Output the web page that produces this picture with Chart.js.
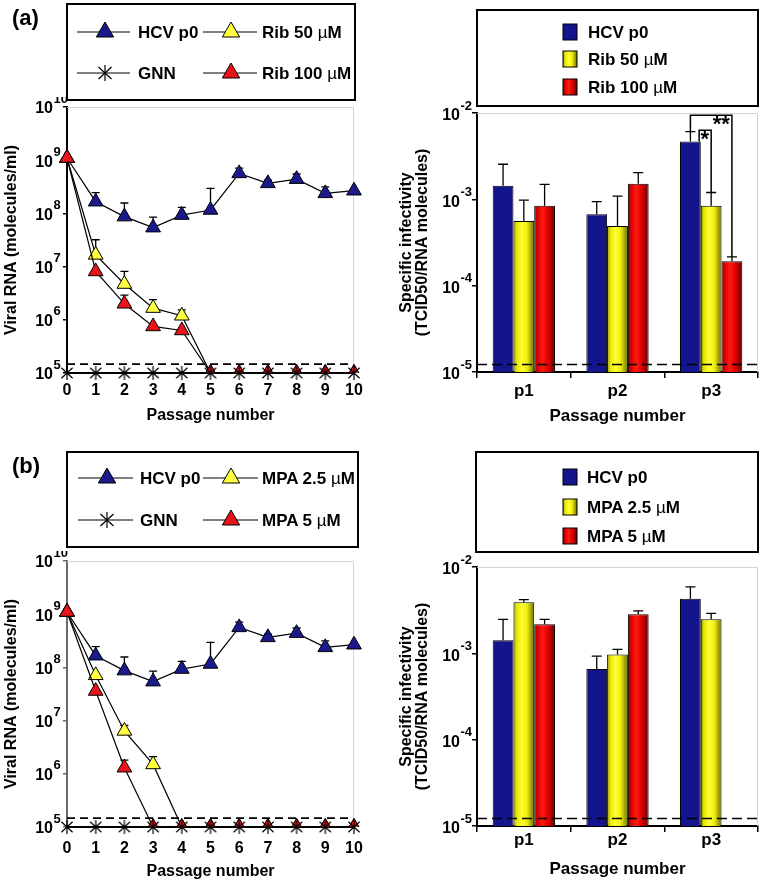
<!DOCTYPE html>
<html>
<head>
<meta charset="utf-8">
<title>HCV passages</title>
<script src="https://cdn.jsdelivr.net/npm/chart.js@4.4.1/dist/chart.umd.min.js"></script>
<style>
  body { margin: 0; background: #fff; }
  #page { position: relative; width: 765px; height: 883px; overflow: hidden; }
  canvas { position: absolute; }
  svg { position: absolute; left: 0; top: 0; }
</style>
</head>
<body>
<div id="page">
  <canvas id="rnaA" width="375" height="330" style="left:0;top:97px"></canvas>
  <canvas id="siA" width="380" height="330" style="left:385px;top:100px"></canvas>
  <canvas id="rnaB" width="375" height="330" style="left:0;top:551px"></canvas>
  <canvas id="siB" width="380" height="330" style="left:385px;top:554px"></canvas>

  <svg width="765" height="883" font-family='"Liberation Sans", Arial, sans-serif' font-weight="bold" font-size="17">
    <defs>
      <linearGradient id="gy" x1="0" x2="1" y1="0" y2="0">
        <stop offset="0" stop-color="#8c8c00"/><stop offset="0.15" stop-color="#e6e600"/>
        <stop offset="0.4" stop-color="#ffff33"/><stop offset="0.65" stop-color="#eeee10"/>
        <stop offset="1" stop-color="#6e6e00"/>
      </linearGradient>
      <linearGradient id="gr" x1="0" x2="1" y1="0" y2="0">
        <stop offset="0" stop-color="#900000"/><stop offset="0.15" stop-color="#d80000"/>
        <stop offset="0.4" stop-color="#ff1a10"/><stop offset="0.65" stop-color="#e00000"/>
        <stop offset="1" stop-color="#6a0000"/>
      </linearGradient>
      <polygon id="tri" points="0,-10 8.66,5 -8.66,5" stroke="#000" stroke-width="1"/>
      <g id="ast" stroke="#000" stroke-width="1.2">
        <line x1="0" y1="-8" x2="0" y2="8"/>
        <line x1="-6.5" y1="-6" x2="6.5" y2="6"/>
        <line x1="-6.5" y1="6" x2="6.5" y2="-6"/>
      </g>
    </defs>

    <text x="12" y="25" font-size="22">(a)</text>
    <text x="12" y="473" font-size="22">(b)</text>

    <!-- legend (a) line chart -->
    <rect x="67" y="4" width="288" height="96" fill="none" stroke="#000" stroke-width="2"/>
    <g stroke="#000" stroke-width="1">
      <line x1="77" y1="32" x2="130" y2="32"/><line x1="203" y1="32" x2="257" y2="32"/>
      <line x1="77" y1="73" x2="130" y2="73"/><line x1="203" y1="73" x2="257" y2="73"/>
    </g>
    <use href="#tri" x="105" y="32" fill="#1a1a8c"/>
    <use href="#tri" x="231" y="32" fill="#ffff40"/>
    <use href="#ast" x="105" y="73"/>
    <use href="#tri" x="231" y="73" fill="#e8141c"/>
    <text x="138" y="38">HCV p0</text>
    <text x="262" y="38">Rib 50 <tspan font-weight="normal">µ</tspan>M</text>
    <text x="138" y="79">GNN</text>
    <text x="262" y="79">Rib 100 <tspan font-weight="normal">µ</tspan>M</text>

    <!-- legend (a) bars -->
    <rect x="477" y="10" width="281" height="96" fill="none" stroke="#000" stroke-width="2"/>
    <rect x="563" y="24" width="14" height="16" fill="#14148c" stroke="#000"/>
    <rect x="563" y="51" width="14" height="16" fill="url(#gy)" stroke="#000"/>
    <rect x="563" y="79" width="14" height="16" fill="url(#gr)" stroke="#000"/>
    <text x="588" y="38">HCV p0</text>
    <text x="588" y="65">Rib 50 <tspan font-weight="normal">µ</tspan>M</text>
    <text x="588" y="93">Rib 100 <tspan font-weight="normal">µ</tspan>M</text>

    <!-- legend (b) line chart -->
    <rect x="67" y="452" width="291" height="95" fill="none" stroke="#000" stroke-width="2"/>
    <g stroke="#000" stroke-width="1">
      <line x1="78" y1="478" x2="133" y2="478"/><line x1="203" y1="478" x2="258" y2="478"/>
      <line x1="78" y1="520" x2="133" y2="520"/><line x1="203" y1="520" x2="258" y2="520"/>
    </g>
    <use href="#tri" x="107" y="478" fill="#1a1a8c"/>
    <use href="#tri" x="231" y="478" fill="#ffff40"/>
    <use href="#ast" x="107" y="520"/>
    <use href="#tri" x="231" y="520" fill="#e8141c"/>
    <text x="140" y="484">HCV p0</text>
    <text x="262" y="484">MPA 2.5 <tspan font-weight="normal">µ</tspan>M</text>
    <text x="140" y="526">GNN</text>
    <text x="262" y="526">MPA 5 <tspan font-weight="normal">µ</tspan>M</text>

    <!-- legend (b) bars -->
    <rect x="476" y="452" width="282" height="100" fill="none" stroke="#000" stroke-width="2"/>
    <rect x="563" y="469" width="14" height="16" fill="#14148c" stroke="#000"/>
    <rect x="563" y="499" width="14" height="16" fill="url(#gy)" stroke="#000"/>
    <rect x="563" y="528" width="14" height="16" fill="url(#gr)" stroke="#000"/>
    <text x="587" y="483">HCV p0</text>
    <text x="587" y="513">MPA 2.5 <tspan font-weight="normal">µ</tspan>M</text>
    <text x="587" y="542">MPA 5 <tspan font-weight="normal">µ</tspan>M</text>
  </svg>
</div>

<script>
// ---- data: viral RNA per passage (molecules/ml) ----
const passages = [0, 1, 2, 3, 4, 5, 6, 7, 8, 9, 10];
const rnaTicks = [1e5, 1e6, 1e7, 1e8, 1e9, 1e10];
const hcvRNA    = [1.1e9, 1.66e8, 8.7e7, 5.4e7, 9.3e7, 1.16e8, 5.65e8, 3.67e8, 4.4e8, 2.38e8, 2.67e8];
const hcvRNAErr = [null, 2.45e8, 1.57e8, 8.5e7, 1.3e8, 2.95e8, 7.1e8, 4.2e8, 5.5e8, 3.15e8, null];
const gnnRNA    = [1e5, 1e5, 1e5, 1e5, 1e5, 1e5, 1e5, 1e5, 1e5, 1e5, 1e5];
const rib50RNA     = [1.1e9, 1.66e7, 4.7e6, 1.66e6, 1.19e6, 1e5, 1e5, 1e5, 1e5, 1e5, 1e5];
const rib50RNAErr  = [null, 3.2e7, 8.1e6, 2.4e6, 1.54e6, null, null, null, null, null, null];
const rib100RNA    = [1.1e9, 8.1e6, 2.0e6, 7.5e5, 6.3e5, 1e5, 1e5, 1e5, 1e5, 1e5, 1e5];
const rib100RNAErr = [null, null, 2.9e6, null, null, null, null, null, null, null, null];
const mpa25RNA     = [1.1e9, 7.1e7, 6.4e6, 1.5e6, 1e5, 1e5, 1e5, 1e5, 1e5, 1e5, 1e5];
const mpa25RNAErr  = [null, null, 8.1e6, 2.1e6, null, null, null, null, null, null, null];
const mpa5RNA      = [1.1e9, 3.6e7, 1.3e6, 1e5, 1e5, 1e5, 1e5, 1e5, 1e5, 1e5, 1e5];
const mpa5RNAErr   = [null, null, 1.8e6, null, null, null, null, null, null, null, null];
const rnaLimit = 1.47e5;

// ---- data: specific infectivity (TCID50 / RNA molecule) ----
const passLabels = ['p1', 'p2', 'p3'];
const siTicks = [1e-5, 1e-4, 1e-3, 1e-2];
const hcvSIa     = [1.44e-3, 6.7e-4, 4.67e-3];
const hcvSIaErr  = [2.55e-3, 9.4e-4, 6.1e-3];
const rib50SI    = [5.6e-4, 4.9e-4, 8.4e-4];
const rib50SIErr = [9.8e-4, 1.09e-3, 1.2e-3];
const rib100SI    = [8.4e-4, 1.52e-3, 1.92e-4];
const rib100SIErr = [1.49e-3, 2.04e-3, 2.15e-4];
const hcvSIb     = [1.42e-3, 6.6e-4, 4.3e-3];
const hcvSIbErr  = [2.48e-3, 9.3e-4, 5.9e-3];
const mpa25SI    = [3.9e-3, 9.7e-4, 2.48e-3];
const mpa25SIErr = [4.2e-3, 1.11e-3, 2.9e-3];
const mpa5SI     = [2.17e-3, 2.83e-3, null];
const mpa5SIErr  = [2.48e-3, 3.1e-3, null];
const siLimit = 1.22e-5;
// p3 significance: HCV p0 vs Rib 100 (**), HCV p0 vs Rib 50 (*)
const sigBrackets = [
  { text: '**', from: 0, to: 2, cat: 2, level: 9.4e-3, inner: false },
  { text: '*', from: 0, to: 1, cat: 2, level: 6.3e-3, inner: true }
];

const FONT = '"Liberation Sans", Arial, sans-serif';
const NAVY = '#14148c';
const BAR_GROUP = 0.665;
const YELLOW_STOPS = [[0, '#8c8c00'], [0.15, '#e6e600'], [0.4, '#ffff33'], [0.65, '#eeee10'], [1, '#6e6e00']];
const RED_STOPS = [[0, '#900000'], [0.15, '#d80000'], [0.4, '#ff1a10'], [0.65, '#e00000'], [1, '#6a0000']];

Chart.defaults.font.family = FONT;
Chart.defaults.font.weight = 'bold';
Chart.defaults.color = '#000';
Chart.defaults.animation = false;
Chart.defaults.plugins.legend.display = false;
Chart.defaults.plugins.tooltip.enabled = false;

// asterisk marker for GNN
function asterisk(r) {
  const c = document.createElement('canvas');
  c.width = c.height = 2 * r + 2;
  const g = c.getContext('2d');
  const m = r + 1;
  g.strokeStyle = '#000';
  g.lineWidth = 1.2;
  g.beginPath();
  g.moveTo(m, m - r); g.lineTo(m, m + r);
  g.moveTo(m - r * 0.8, m - r * 0.75); g.lineTo(m + r * 0.8, m + r * 0.75);
  g.moveTo(m - r * 0.8, m + r * 0.75); g.lineTo(m + r * 0.8, m - r * 0.75);
  g.stroke();
  return c;
}
const astImg = asterisk(7);

// horizontal shading of a bar, like the original cylinders
function shaded(stops) {
  return (c) => {
    const chart = c.chart, x = chart.scales.x;
    if (!x || !x.width || c.dataIndex === undefined) return stops[2][1];
    const n = chart.data.datasets.length;
    const w = x.width / chart.data.labels.length * BAR_GROUP / n;
    const cx = x.getPixelForValue(c.dataIndex) + (c.datasetIndex - (n - 1) / 2) * w;
    const g = chart.ctx.createLinearGradient(cx - w / 2, 0, cx + w / 2, 0);
    stops.forEach(([o, col]) => g.addColorStop(o, col));
    return g;
  };
}

const errorBars = {
  id: 'errorBars',
  beforeDatasetsDraw(chart, args, opts) {
    const y = chart.scales.y, ctx = chart.ctx;
    ctx.save();
    ctx.strokeStyle = '#000';
    ctx.lineWidth = 1.3;
    chart.data.datasets.forEach((ds, i) => {
      if (!ds.errTop) return;
      chart.getDatasetMeta(i).data.forEach((el, j) => {
        const v = ds.errTop[j];
        const d = ds.data[j];
        if (v == null || d == null || (typeof d === 'object' && d.y == null)) return;
        const top = y.getPixelForValue(v);
        const cap = opts.cap || 4;
        ctx.beginPath();
        ctx.moveTo(el.x, el.y);
        ctx.lineTo(el.x, top);
        ctx.moveTo(el.x - cap, top);
        ctx.lineTo(el.x + cap, top);
        ctx.stroke();
      });
    });
    ctx.restore();
  }
};

function drawLimit(chart, opts) {
  const a = chart.chartArea, ctx = chart.ctx;
  const y = chart.scales.y.getPixelForValue(opts.value);
  ctx.save();
  ctx.strokeStyle = '#000';
  ctx.lineWidth = 1.6;
  ctx.setLineDash(opts.dash);
  ctx.beginPath();
  ctx.moveTo(a.left, y);
  ctx.lineTo(a.right, y);
  ctx.stroke();
  ctx.restore();
}

const limitLine = {
  id: 'limitLine',
  beforeDatasetsDraw(chart, args, opts) { if (opts.value && !opts.above) drawLimit(chart, opts); },
  afterDatasetsDraw(chart, args, opts) { if (opts.value && opts.above) drawLimit(chart, opts); }
};

const frame = {
  id: 'frame',
  beforeDatasetsDraw(chart) {
    const a = chart.chartArea, ctx = chart.ctx;
    ctx.save();
    ctx.strokeStyle = '#d4d4d4';
    ctx.lineWidth = 1;
    ctx.beginPath();
    ctx.moveTo(a.left, a.top + 0.5);
    ctx.lineTo(a.right - 0.5, a.top + 0.5);
    ctx.lineTo(a.right - 0.5, a.bottom);
    ctx.stroke();
    ctx.restore();
  }
};

// "10" with the exponent raised
const powTicks = {
  id: 'powTicks',
  afterDraw(chart, args, opts) {
    if (opts.baseX == null) return;
    const s = chart.scales.y, ctx = chart.ctx;
    ctx.save();
    ctx.fillStyle = '#000';
    ctx.textBaseline = 'middle';
    s.ticks.forEach(t => {
      const y = s.getPixelForValue(t.value);
      const e = Math.round(Math.log10(t.value));
      ctx.font = 'bold 16px ' + FONT;
      ctx.textAlign = 'right';
      ctx.fillText('10', opts.baseX, y + opts.baseDy);
      ctx.font = 'bold ' + opts.expSize + 'px ' + FONT;
      ctx.textAlign = 'left';
      ctx.fillText(String(e), opts.baseX + 0.5, y + opts.expDy);
    });
    ctx.restore();
  }
};

const brackets = {
  id: 'brackets',
  afterDatasetsDraw(chart, args, opts) {
    if (!opts.items) return;
    const y = chart.scales.y, ctx = chart.ctx, ds = chart.data.datasets;
    ctx.save();
    ctx.strokeStyle = '#000';
    ctx.fillStyle = '#000';
    ctx.lineWidth = 1.5;
    opts.items.forEach(b => {
      const ea = chart.getDatasetMeta(b.from).data[b.cat];
      const eb = chart.getDatasetMeta(b.to).data[b.cat];
      const xa = b.inner ? ea.x + ea.width * 0.42 : ea.x;
      const ya = y.getPixelForValue(b.inner ? ds[b.from].data[b.cat] : ds[b.from].errTop[b.cat]);
      const yb = y.getPixelForValue(ds[b.to].errTop[b.cat]);
      const yl = y.getPixelForValue(b.level);
      ctx.beginPath();
      ctx.moveTo(xa, ya);
      ctx.lineTo(xa, yl);
      ctx.lineTo(eb.x, yl);
      ctx.lineTo(eb.x, yb);
      ctx.stroke();
      ctx.font = 'bold 22px ' + FONT;
      ctx.textAlign = 'right';
      ctx.textBaseline = 'top';
      ctx.fillText(b.text, eb.x - 2, yl - 1);
    });
    ctx.restore();
  }
};

Chart.register(errorBars, limitLine, frame, powTicks, brackets);

function rnaChart(id, series, o) {
  return new Chart(document.getElementById(id), {
    type: 'line',
    data: {
      datasets: series.map(s => ({
        label: s.label,
        data: passages.map((p, i) => ({ x: p, y: s.data[i] })),
        errTop: s.err,
        borderColor: '#000',
        borderWidth: 1.2,
        pointStyle: s.star ? astImg : 'triangle',
        pointRadius: 8.5,
        pointBackgroundColor: s.color,
        pointBorderColor: '#000',
        pointBorderWidth: 1,
        order: s.order,
        clip: s.cut ? { left: false, top: false, right: false, bottom: 0 } : false
      }))
    },
    options: {
      responsive: false,
      layout: { padding: { top: 10, right: 21, left: 0, bottom: 0 }, autoPadding: false },
      scales: {
        x: {
          type: 'linear', min: 0, max: 10,
          ticks: { stepSize: 1, autoSkip: false, font: { size: 16 }, padding: o.xPad },
          grid: { display: false },
          border: { color: '#000', width: 2 },
          title: { display: true, text: 'Passage number', font: { size: 16 }, padding: { top: 0, bottom: o.tPad } },
          afterFit: s => { s.height = 54; }
        },
        y: {
          type: 'logarithmic', min: 1e5, max: 1e10,
          afterBuildTicks: s => { s.ticks = rnaTicks.map(v => ({ value: v })); },
          ticks: { display: false },
          grid: { drawOnChartArea: false, tickLength: 4, color: o.axis, lineWidth: 1.5 },
          border: { color: o.axis, width: 2 },
          title: { display: true, text: 'Viral RNA (molecules/ml)', font: { size: 16 }, padding: { top: 2, bottom: 0 } },
          afterFit: s => { s.width = 67; }
        }
      },
      plugins: {
        errorBars: { cap: 4 },
        limitLine: { value: rnaLimit, dash: [8, 5], above: false },
        powTicks: { baseX: 53, baseDy: 2, expDy: -8, expSize: 13 }
      }
    }
  });
}

function siChart(id, series, o) {
  return new Chart(document.getElementById(id), {
    type: 'bar',
    data: {
      labels: passLabels,
      datasets: series.map(s => ({
        label: s.label,
        data: s.data,
        errTop: s.err,
        backgroundColor: s.stops ? shaded(s.stops) : s.color,
        borderColor: '#000',
        borderWidth: 1,
        borderSkipped: 'start',
        categoryPercentage: BAR_GROUP,
        barPercentage: 1
      }))
    },
    options: {
      responsive: false,
      layout: { padding: { top: 13, right: 7, left: 0, bottom: 0 }, autoPadding: false },
      scales: {
        x: {
          ticks: { font: { size: 17 }, padding: o.xPad },
          grid: { drawOnChartArea: false, offset: true, tickLength: 6, color: '#000', lineWidth: 1.5 },
          border: { color: '#000', width: 2 },
          title: { display: true, text: 'Passage number', font: { size: 17 }, padding: { top: 0, bottom: o.tPad } },
          afterFit: s => { s.height = 58; }
        },
        y: {
          type: 'logarithmic', min: 1e-5, max: 1e-2,
          afterBuildTicks: s => { s.ticks = siTicks.map(v => ({ value: v })); },
          ticks: { display: false },
          grid: { drawOnChartArea: false, tickLength: 5, color: '#000', lineWidth: 1.5 },
          border: { color: '#000', width: 2 },
          title: {
            display: true, text: ['Specific infectivity', '(TCID50/RNA molecules)'],
            font: { size: 16, lineHeight: 1 }, padding: { top: 14, bottom: 0 }
          },
          afterFit: s => { s.width = 92; }
        }
      },
      plugins: {
        errorBars: { cap: 5 },
        limitLine: { value: siLimit, dash: [10, 5], above: true },
        powTicks: { baseX: 75, baseDy: 3, expDy: -7, expSize: 13 },
        brackets: { items: o.brackets }
      }
    }
  });
}

rnaChart('rnaA', [
  { label: 'GNN', data: gnnRNA, err: null, star: true, color: '#000', order: 0 },
  { label: 'Rib 100 µM', data: rib100RNA, err: rib100RNAErr, color: '#e8141c', order: 1, cut: true },
  { label: 'Rib 50 µM', data: rib50RNA, err: rib50RNAErr, color: '#ffff40', order: 2, cut: true },
  { label: 'HCV p0', data: hcvRNA, err: hcvRNAErr, color: '#1a1a8c', order: 3 }
], { xPad: 0, tPad: 1.4, axis: '#000' });

rnaChart('rnaB', [
  { label: 'GNN', data: gnnRNA, err: null, star: true, color: '#000', order: 0 },
  { label: 'MPA 5 µM', data: mpa5RNA, err: mpa5RNAErr, color: '#e8141c', order: 1, cut: true },
  { label: 'MPA 2.5 µM', data: mpa25RNA, err: mpa25RNAErr, color: '#ffff40', order: 2, cut: true },
  { label: 'HCV p0', data: hcvRNA, err: hcvRNAErr, color: '#1a1a8c', order: 3 }
], { xPad: 4, tPad: 0, axis: '#6a6a6a' });

siChart('siA', [
  { label: 'HCV p0', data: hcvSIa, err: hcvSIaErr, color: NAVY },
  { label: 'Rib 50 µM', data: rib50SI, err: rib50SIErr, stops: YELLOW_STOPS },
  { label: 'Rib 100 µM', data: rib100SI, err: rib100SIErr, stops: RED_STOPS }
], { xPad: 3, tPad: 3.9, brackets: sigBrackets });

siChart('siB', [
  { label: 'HCV p0', data: hcvSIb, err: hcvSIbErr, color: NAVY },
  { label: 'MPA 2.5 µM', data: mpa25SI, err: mpa25SIErr, stops: YELLOW_STOPS },
  { label: 'MPA 5 µM', data: mpa5SI, err: mpa5SIErr, stops: RED_STOPS }
], { xPad: -2, tPad: 4.9, brackets: null });
</script>
</body>
</html>
